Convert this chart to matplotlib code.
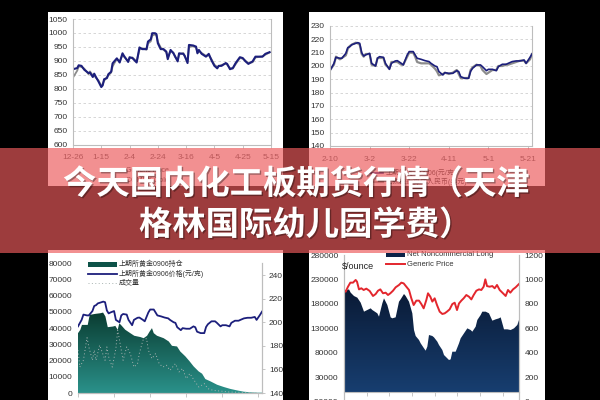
import matplotlib
matplotlib.use("Agg")
import matplotlib.pyplot as plt
import matplotlib.patheffects as pe
from matplotlib.colors import LinearSegmentedColormap
from matplotlib.lines import Line2D
from matplotlib.patches import PathPatch, Rectangle
import numpy as np

plt.rcParams["font.family"] = ["Liberation Sans", "Noto Sans CJK SC", "DejaVu Sans"]

# ------------------------------------------------------------------ data

# top left: generic price vs comex, 12-26 .. 5-15
TL_DATES = ["12-26", "1-15", "2-4", "2-24", "3-16", "4-5", "4-25", "5-15"]
TL_DAYS = [0, 3, 4, 6, 8, 11, 12, 14, 15, 16, 18, 20, 21, 22, 24, 25, 27, 28, 30, 31,
           33, 35, 36, 39, 40, 42, 45, 47, 49, 52, 53, 55, 56, 58, 59, 60, 62, 64, 66, 67,
           69, 71, 72, 74, 75, 78, 79, 81, 82, 85, 87, 88, 89, 91, 94, 96, 98, 100, 102, 103,
           105, 108, 109, 111, 113, 115, 118, 120, 122, 124, 127, 129, 134, 136, 139]
TL_NAVY = [870, 874, 884, 882, 868, 856, 858, 842, 854, 844, 826, 806, 812, 834, 838,
           852, 861, 891, 903, 909, 894, 927, 918, 896, 913, 910, 894, 948, 942, 942,
           969, 977, 999, 999, 996, 963, 942, 942, 933, 906, 939, 927, 918, 898, 927,
           925, 918, 892, 957, 955, 951, 927, 939, 925, 915, 925, 901, 882, 873, 882,
           882, 892, 889, 870, 874, 892, 913, 910, 898, 889, 898, 915, 915, 925, 931]
TL_GRAY = [840, 865, 880, 878, 872, 852, 862, 848, 850, 840, 830, 810, 818, 828, 842,
           848, 858, 880, 898, 905, 898, 920, 915, 900, 908, 912, 898, 940, 945, 940,
           962, 970, 990, 995, 990, 968, 948, 940, 930, 912, 935, 930, 915, 902, 922,
           928, 915, 898, 950, 952, 948, 930, 935, 928, 918, 920, 905, 886, 878, 880,
           885, 890, 886, 874, 872, 888, 910, 908, 900, 892, 895, 912, 916, 922, 930]

# top right + bottom left: SHFE gold 0906, 2-10 .. 5-21
TR_DATES = ["2-10", "3-2", "3-22", "4-11", "5-1", "5-21"]
AU_DAYS = [0, 2, 3, 5, 6, 8, 9, 10, 11, 13, 14, 15, 16, 17, 18, 20, 21, 23, 24, 25,
           27, 28, 30, 31, 33, 34, 36, 37, 39, 40, 42, 43, 44, 46, 48, 50, 51, 53, 54, 55,
           57, 58, 60, 62, 64, 65, 66, 68, 70, 71, 72, 74, 76, 77, 79, 80, 82, 84, 85, 87,
           89, 90, 92, 94, 96, 98, 99, 101, 102]
AU_PRICE = [196.5, 202, 206.5, 205.8, 205.8, 209.5, 213.8, 214.5, 216, 217,
            217.5, 217, 210, 207.5, 208.3, 209.5, 202, 200, 205.8, 207,
            206.5, 202, 197.5, 202, 203.8, 204, 202, 200.8, 208.3, 210.8,
            210.8, 208.3, 205.8, 205, 204, 203.3, 202, 200, 199.5, 195.8,
            193.3, 195, 194.5, 194.5, 196.5, 195.8, 192, 190.8, 190.8, 196,
            198.3, 200.8, 200.8, 199.5, 196.5, 197.5, 197.5, 196.5, 199.5, 201.3,
            201.3, 202, 203.3, 203.8, 203.8, 204.5, 202, 206.5, 209]
AU_COMEX = [197, 201, 207, 205, 206, 208, 213, 215, 216, 217.5,
            217, 216, 209, 207, 209, 209, 201, 200, 206, 206,
            206, 201, 198, 203, 203, 203, 201, 201, 207, 210,
            210, 207, 203, 202, 202, 202, 201, 198, 196, 193,
            194, 195, 194, 195, 197, 194, 191, 191, 191, 197,
            199, 201, 200, 197, 194, 195, 197, 197, 200, 200,
            201, 201, 202, 203, 204, 204, 202, 205, 209]

OI_DAYS = [0, 1.3, 2.2, 5.4, 6.5, 9.6, 12.4, 13.9, 15.2, 16.5, 19.4, 20.7, 22, 22.9, 23.8,
           26.2, 29, 31.2, 34.6, 36.4, 38.3, 39.7, 41, 42, 43.8, 47.5, 50.3, 52.1, 54.9, 56.7,
           59.5, 61.9, 64.1, 66.9, 68.8, 70.6, 73.4, 77.1, 80.8, 84.5, 88.2, 91.9, 95.6, 99.3, 102]
OI = [36900, 39000, 42000, 42000, 48200, 48800, 49200, 49600, 47200, 40600,
      41000, 41400, 39000, 43000, 42000, 39000, 36900, 35300, 34500, 33800,
      35300, 37900, 40000, 36900, 35300, 33800, 31800, 29100, 28700, 25600,
      22600, 19500, 16400, 13300, 11900, 8600, 7200, 5100, 3700, 2500,
      1600, 800, 400, 200, 200]
VOL_DAYS = [0, 1, 3, 5, 6, 8, 9, 10, 12, 13, 15, 16, 17, 19, 21, 22, 24, 25, 27, 29,
            31, 33, 34, 36, 38, 39, 41, 43, 45, 47, 49, 51, 54, 56, 58, 60, 62, 65, 67, 70,
            72, 75, 79, 84, 92, 99]
VOL = [26400, 16000, 20200, 34200, 28400, 20200, 26400, 20200, 29500, 26400,
       20200, 28400, 22300, 16000, 27400, 38800, 26400, 20200, 28400, 24300,
       16000, 18100, 24300, 32600, 33600, 26400, 21200, 24300, 18100, 16000,
       17100, 14000, 18100, 13000, 15100, 8900, 12000, 6800, 3700, 5800,
       2700, 1600, 1200, 600, 400, 200]

# bottom right: COT net noncommercial long vs generic price
NC_X = [0, 1, 3, 4, 6, 8, 10, 12, 14, 16, 17, 20, 21, 23, 24, 26, 28, 29, 31, 33,
        34, 36, 37, 39, 41, 42, 43, 45, 46, 48, 49, 50, 51, 53, 54, 56, 57, 59, 60, 62,
        63, 64, 65, 67, 69, 70, 72, 74, 76, 77, 79, 80, 82, 83, 85, 87, 89, 91, 93, 94,
        96, 98, 100, 102, 104, 105]
NC_LONG = [205100, 207100, 209800, 203000, 196200, 192800, 182600, 164200, 167600, 171000,
           167600, 160800, 154000, 181200, 191400, 177800, 152600, 150600, 152600, 184600,
           189400, 200300, 196200, 184600, 160800, 126700, 114500, 106300, 99500, 89300,
           84500, 92700, 116500, 114500, 111700, 102900, 96100, 85800, 75600, 68800,
           65400, 66800, 82400, 82400, 99500, 109700, 119900, 130100, 126700, 123300,
           133500, 147200, 157400, 164200, 164200, 160800, 145800, 148500, 150600, 152600,
           128100, 128100, 126700, 130100, 137000, 147200]
GP_X = [0, 1, 2.4, 3.8, 5.4, 7, 7.8, 9, 10.4, 11.8, 13.4, 15.4, 17.4, 19, 20.4, 21.8,
        23.4, 25, 26.4, 27.8, 29.4, 31, 33, 34.4, 35.8, 37.4, 39, 40.4, 41.8, 43.4, 45,
        46.4, 47.8, 49.4, 50.4, 51.8, 53, 54.4, 55.8, 57.4, 59, 60.4, 61.8, 63.4, 65,
        66.4, 67.8, 69, 70.4, 71.8, 73.4, 75, 76.4, 77.8, 79.4, 81, 82.4, 83.8, 84.8,
        85.8, 87.4, 89, 90.4, 91.8, 93.4, 95.4, 97, 98.4, 99.8, 101.4, 103, 105]
GP_PRICE = [914, 900, 941, 974, 974, 996, 982, 919, 928, 914, 925, 906, 865, 881, 908,
            919, 887, 892, 873, 887, 908, 936, 955, 974, 968, 941, 914, 846, 791, 827,
            827, 799, 764, 832, 887, 859, 819, 846, 791, 737, 718, 723, 737, 756, 799,
            810, 750, 804, 827, 846, 873, 859, 837, 873, 908, 919, 914, 941, 1001, 946,
            941, 946, 928, 955, 914, 887, 865, 914, 892, 919, 936, 963]

TITLE_1 = "今天国内化工板期货行情（天津"
TITLE_2 = "格林国际幼儿园学费）"

W, H = 600, 400
SPINE = "#bdbdbd"
NAVY = "#1c1f7c"
VOL_GRAY = "#a9b4b2"


def box(x0, y0, x1, y1):
    """Pixel box of the screenshot (top-left origin) -> figure rect."""
    return [x0 / W, 1 - y1 / H, (x1 - x0) / W, (y1 - y0) / H]


def fxy(x, y):
    return x / W, 1 - y / H


def style(ax):
    for s in ax.spines.values():
        s.set_color(SPINE)
        s.set_linewidth(0.8)
    ax.tick_params(labelsize=6, colors="#333333", color=SPINE, length=2, width=0.6)


def gradient_fill(ax, x, y, c_top, c_bottom, y0, y1):
    poly = ax.fill_between(x, y, y0, facecolor="none", edgecolor="none")
    clip = PathPatch(poly.get_paths()[0], transform=ax.transData,
                     facecolor="none", edgecolor="none")
    ax.add_patch(clip)
    cmap = LinearSegmentedColormap.from_list("g", [c_bottom, c_top])
    grad = np.linspace(0, 1, 256).reshape(-1, 1)
    img = ax.imshow(grad, cmap=cmap, aspect="auto", origin="lower",
                    extent=[x[0], x[-1], y0, y1], zorder=1)
    img.set_clip_path(clip)


def legend_text(x, y, text, size=5):
    fx, fy = fxy(x, y)
    fig.text(fx, fy, text, fontsize=size, color="#333333", va="center", ha="left")


def legend_line(x0, x1, y, **kw):
    a, b = fxy(x0, y)
    c, _ = fxy(x1, y)
    fig.add_artist(Line2D([a, c], [b, b], transform=fig.transFigure, **kw))


fig = plt.figure(figsize=(6, 4), dpi=100, facecolor="black")

# white screenshot panels
for x0, y0, x1, y1 in [(48, 12, 283, 186), (309, 12, 545, 186),
                       (48, 250, 283, 400), (309, 250, 545, 400)]:
    fig.add_artist(Rectangle((x0 / W, 1 - y1 / H), (x1 - x0) / W, (y1 - y0) / H,
                             transform=fig.transFigure, facecolor="white",
                             edgecolor="none", zorder=-1))

# ------------------------------------------------------------- top left
ax1 = fig.add_axes(box(73, 19, 271, 144.5))
style(ax1)
ax1.plot(TL_DAYS, TL_GRAY, color="#8c8c8c", lw=1.3)
ax1.plot(TL_DAYS, TL_NAVY, color=NAVY, lw=1.5)
ax1.set_xlim(0, 140)
ax1.set_ylim(600, 1050)
ax1.set_yticks(range(600, 1051, 50))
ax1.set_xticks(range(0, 141, 20))
ax1.set_xticklabels(TL_DATES)
ax1.grid(axis="y", ls=(0, (3, 3)), color="#d0d0d0", lw=0.6)
ax1.spines["top"].set_visible(False)
ax1.tick_params(axis="y", length=0, pad=4)
ax1.tick_params(axis="x", colors="#555555", color=SPINE, pad=5)
legend_line(106, 122, 171, color="#8c8c8c", lw=1.3)
legend_text(126, 171, "Generic Price")
legend_line(106, 122, 181, color=NAVY, lw=1.5)
legend_text(126, 181, "COMEX Gold")

# ------------------------------------------------------------ top right
ax2 = fig.add_axes(box(330, 26, 532, 146))
style(ax2)
ax2.plot(AU_DAYS, AU_COMEX, color="#8c8c8c", lw=1.6)
ax2.plot(AU_DAYS, AU_PRICE, color=NAVY, lw=1.2)
ax2.set_xlim(0, 102)
ax2.set_ylim(140, 230)
ax2.set_yticks(range(140, 231, 10))
ax2.set_xticks(range(0, 101, 20))
ax2.set_xticklabels(TR_DATES)
ax2.grid(axis="y", ls=(0, (3, 3)), color="#d0d0d0", lw=0.6)
ax2.spines["top"].set_visible(False)
ax2.tick_params(axis="y", length=0, pad=4)
ax2.tick_params(axis="x", colors="#555555", color=SPINE, pad=5)
legend_line(366, 383, 173, color=NAVY, lw=1.2)
legend_text(386, 173, "上期所黄金0906(元/克)")
legend_line(366, 383, 182, color="#8c8c8c", lw=1.6)
legend_text(386, 182, "伦敦金折算成人民币(美元)")

# ---------------------------------------------------------- bottom left
ax3 = fig.add_axes(box(78, 263.3, 262, 393))
style(ax3)
gradient_fill(ax3, OI_DAYS, OI, "#0a3b30", "#2a918a", 0, 50000)
ax3.plot(VOL_DAYS, VOL, color=VOL_GRAY, lw=0.7, ls=(0, (1, 2.5)), zorder=2)
ax3.set_xlim(0, 102)
ax3.set_ylim(0, 80000)
ax3.set_yticks(range(0, 80001, 10000))
ax3.set_xticks(range(0, 101, 20))
ax3.set_xticklabels([])
ax3.spines["left"].set_visible(False)
ax3.spines["top"].set_visible(False)
ax3.tick_params(axis="y", length=0, pad=4)
ax3.tick_params(axis="x", length=3, direction="out")
ax3b = ax3.twinx()
style(ax3b)
ax3b.plot(AU_DAYS, AU_PRICE, color=NAVY, lw=1.3)
ax3b.set_ylim(140, 250)
ax3b.set_yticks(range(140, 241, 20))
ax3b.spines["left"].set_visible(False)
ax3b.spines["top"].set_visible(False)
ax3b.tick_params(axis="y", pad=3)
fig.add_artist(Rectangle(fxy(88, 266.5), 29 / W, 4.5 / H, transform=fig.transFigure,
                         facecolor="#0d5248", edgecolor="none"))
legend_text(119, 264.5, "上期所黄金0906持仓")
legend_line(88, 117, 274.3, color=NAVY, lw=1.3)
legend_text(119, 274.3, "上期所黄金0906价格(元/克)")
legend_line(88, 117, 283.3, color=VOL_GRAY, lw=0.7, ls=(0, (1, 2.5)))
legend_text(119, 283.3, "成交量")

# --------------------------------------------------------- bottom right
ax4 = fig.add_axes(box(344, 255, 519, 401.8))
style(ax4)
gradient_fill(ax4, NC_X, NC_LONG, "#0a1a35", "#173e70", 0, 210000)
ax4.set_xlim(0, 105)
ax4.set_ylim(-20000, 280000)
ax4.set_yticks(range(-20000, 280001, 50000))
ax4.set_xticks([i * 13.6 for i in range(8)])
ax4.set_xticklabels([])
ax4.spines["bottom"].set_position(("data", 0))
ax4.spines["top"].set_visible(False)
ax4.tick_params(axis="y", length=0, pad=4)
ax4.tick_params(axis="x", length=3, direction="out")
ax4b = ax4.twinx()
style(ax4b)
ax4b.plot(GP_X, GP_PRICE, color="#e3262d", lw=1.4)
ax4b.set_ylim(0, 1200)
ax4b.set_yticks(range(0, 1201, 200))
ax4b.spines["top"].set_visible(False)
ax4b.spines["bottom"].set_visible(False)
ax4b.tick_params(axis="y", length=0, pad=4)
fig.add_artist(Rectangle(fxy(386, 257), 19 / W, 4 / H, transform=fig.transFigure,
                         facecolor="#0c2247", edgecolor="none"))
legend_text(407, 255, "Net Noncommercial Long", size=5.5)
legend_line(386, 405, 264.3, color="#e3262d", lw=1.4)
legend_text(407, 264.3, "Generic Price", size=5.5)
fx, fy = fxy(342, 267)
fig.text(fx, fy, "$/ounce", fontsize=6.5, color="#222222", va="center", ha="left")

# --------------------------------------------------------------- banner
fig.add_artist(Rectangle((0, 1 - 253 / H), 1, 105 / H, transform=fig.transFigure,
                         facecolor=(236 / 255, 90 / 255, 92 / 255), alpha=0.67,
                         edgecolor="none", zorder=10))
shadow = [pe.withSimplePatchShadow(offset=(1, -1), shadow_rgbFace="black", alpha=0.35)]
for text, x, y in [(TITLE_1, 63, 194), (TITLE_2, 139, 235)]:
    fx, fy = fxy(x, y)
    fig.text(fx, fy, text, fontsize=24, fontweight="bold", color="white",
             family=["Noto Sans CJK SC", "DejaVu Sans"], ha="left", va="baseline",
             zorder=11, path_effects=shadow)

fig.savefig("out.png", dpi=100, facecolor="black")
